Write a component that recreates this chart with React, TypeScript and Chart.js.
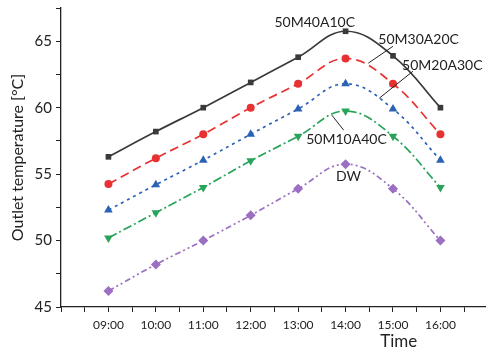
import React, { useEffect, useRef } from "react";
import { Chart, registerables } from "chart.js";

Chart.register(...registerables);

const hours = [9, 10, 11, 12, 13, 14, 15, 16];
const s50M40A10C = [56.3, 58.2, 60.0, 61.9, 63.8, 65.75, 63.9, 60.0];
const s50M30A20C = [54.25, 56.2, 58.0, 60.0, 61.8, 63.7, 61.8, 58.0];
const s50M20A30C = [52.3, 54.2, 56.05, 58.0, 59.9, 61.8, 59.9, 56.05];
const s50M10A40C = [50.2, 52.1, 54.0, 56.0, 57.85, 59.75, 57.85, 54.0];
const sDW = [46.2, 48.2, 50.0, 51.9, 53.9, 55.75, 53.9, 50.0];

const seriesNames = ["50M40A10C", "50M30A20C", "50M20A30C", "50M10A40C", "DW"];

// annotation labels in data coordinates
const labelText = ["50M40A10C", "50M30A20C", "50M20A30C", "50M10A40C", "DW"];
const labelX = [13.35, 15.54, 16.04, 14.02, 14.06];
const labelY = [66.43, 65.15, 63.2, 57.63, 54.85];
// leader lines [x1, y1, x2, y2] in data coordinates
const leaderLines = [
  [14.48, 63.35, 15.0, 64.62],
  [14.71, 60.71, 15.42, 62.74],
  [13.71, 59.44, 13.96, 58.31],
];

const xTicks = [8, 8.5, 9, 9.5, 10, 10.5, 11, 11.5, 12, 12.5, 13, 13.5, 14, 14.5, 15, 15.5, 16, 16.5];
const yTicks = [45, 47.5, 50, 52.5, 55, 57.5, 60, 62.5, 65, 67.5];

const FONT = "Lato, 'Open Sans', sans-serif";

const toPts = (ys: number[]) => ys.map((y, i) => ({ x: hours[i], y }));

export default function App() {
  const ref = useRef<HTMLCanvasElement | null>(null);
  useEffect(() => {
    if (!ref.current) return;
    const annot = {
      id: "annot",
      afterDraw(chart: any) {
        const { ctx, scales } = chart;
        const xs = scales.x, ys = scales.y;
        ctx.save();
        ctx.strokeStyle = "#222";
        ctx.lineWidth = 1;
        leaderLines.forEach((l) => {
          ctx.beginPath();
          ctx.moveTo(xs.getPixelForValue(l[0]), ys.getPixelForValue(l[1]));
          ctx.lineTo(xs.getPixelForValue(l[2]), ys.getPixelForValue(l[3]));
          ctx.stroke();
        });
        ctx.fillStyle = "#222";
        ctx.font = `14px ${FONT}`;
        ctx.textAlign = "center";
        ctx.textBaseline = "middle";
        labelText.forEach((t, i) => {
          ctx.fillText(t, xs.getPixelForValue(labelX[i]), ys.getPixelForValue(labelY[i]));
        });
        ctx.font = `17px ${FONT}`;
        ctx.fillText("Time", xs.getPixelForValue(15.12), chart.height - 9);
        ctx.restore();
      },
    };
    const common = { borderWidth: 1.7, pointBorderWidth: 0, tension: 0.4, fill: false };
    const chart = new Chart(ref.current, {
      type: "line",
      data: {
        datasets: [
          { ...common, label: seriesNames[0], data: toPts(s50M40A10C), borderColor: "#3a3a3a", backgroundColor: "#3a3a3a", pointStyle: "rect", pointRadius: 4 },
          { ...common, label: seriesNames[1], data: toPts(s50M30A20C), borderColor: "#e83232", backgroundColor: "#e83232", borderDash: [9, 5], pointStyle: "circle", pointRadius: 4 },
          { ...common, label: seriesNames[2], data: toPts(s50M20A30C), borderColor: "#2b62b5", backgroundColor: "#2b62b5", borderDash: [3, 4], pointStyle: "triangle", pointRadius: 5 },
          { ...common, label: seriesNames[3], data: toPts(s50M10A40C), borderColor: "#27a35a", backgroundColor: "#27a35a", borderDash: [9, 3, 2, 3], pointStyle: "triangle", pointRotation: 180, pointRadius: 5 },
          { ...common, label: seriesNames[4], data: toPts(sDW), borderColor: "#9b6fc2", backgroundColor: "#9b6fc2", borderDash: [6, 3, 2, 3, 2, 3], pointStyle: "rectRot", pointRadius: 5 },
        ],
      },
      options: {
        animation: false,
        responsive: false,
        layout: { padding: { top: 8, left: 0, right: 0, bottom: 0 } },
        plugins: { legend: { display: false }, tooltip: { enabled: false } },
        scales: {
          x: {
            type: "linear",
            min: 8,
            max: 16.94,
            afterBuildTicks: (s: any) => { s.ticks = xTicks.map((v) => ({ value: v })); },
            afterFit: (s: any) => { s.height = 44; s.paddingLeft = 0; s.paddingRight = 0; },
            ticks: {
              autoSkip: false,
              maxRotation: 0,
              padding: 6,
              color: "#222",
              font: { family: FONT, size: 12 },
              callback: (v: any) => (Number.isInteger(v) && v >= 9 && v <= 16 ? `${String(v).padStart(2, "0")}:00` : ""),
            },
            grid: { drawOnChartArea: false, tickLength: 5, color: "#222", tickColor: "#222" },
            border: { color: "#222", width: 1.3 },
          },
          y: {
            min: 45,
            max: 67.5,
            afterBuildTicks: (s: any) => { s.ticks = yTicks.map((v) => ({ value: v })); },
            afterFit: (s: any) => { s.width = 61; s.paddingTop = 0; s.paddingBottom = 0; },
            ticks: {
              autoSkip: false,
              padding: 4,
              color: "#222",
              font: { family: FONT, size: 15 },
              callback: (v: any) => (v % 5 === 0 ? String(v) : ""),
            },
            title: { display: true, text: "Outlet temperature [°C]", color: "#222", font: { family: FONT, size: 16 }, padding: { top: 8, bottom: 0 } },
            grid: { drawOnChartArea: false, tickLength: 5, color: "#222", tickColor: "#222" },
            border: { color: "#222", width: 1.3 },
          },
        },
      },
      plugins: [annot],
    });
    return () => chart.destroy();
  }, []);
  return (
    <div style={{ position: "fixed", left: 0, top: 0, width: 490, height: 351, background: "#fff" }}>
      <canvas ref={ref} width={490} height={351} style={{ width: 490, height: 351 }} />
    </div>
  );
}
